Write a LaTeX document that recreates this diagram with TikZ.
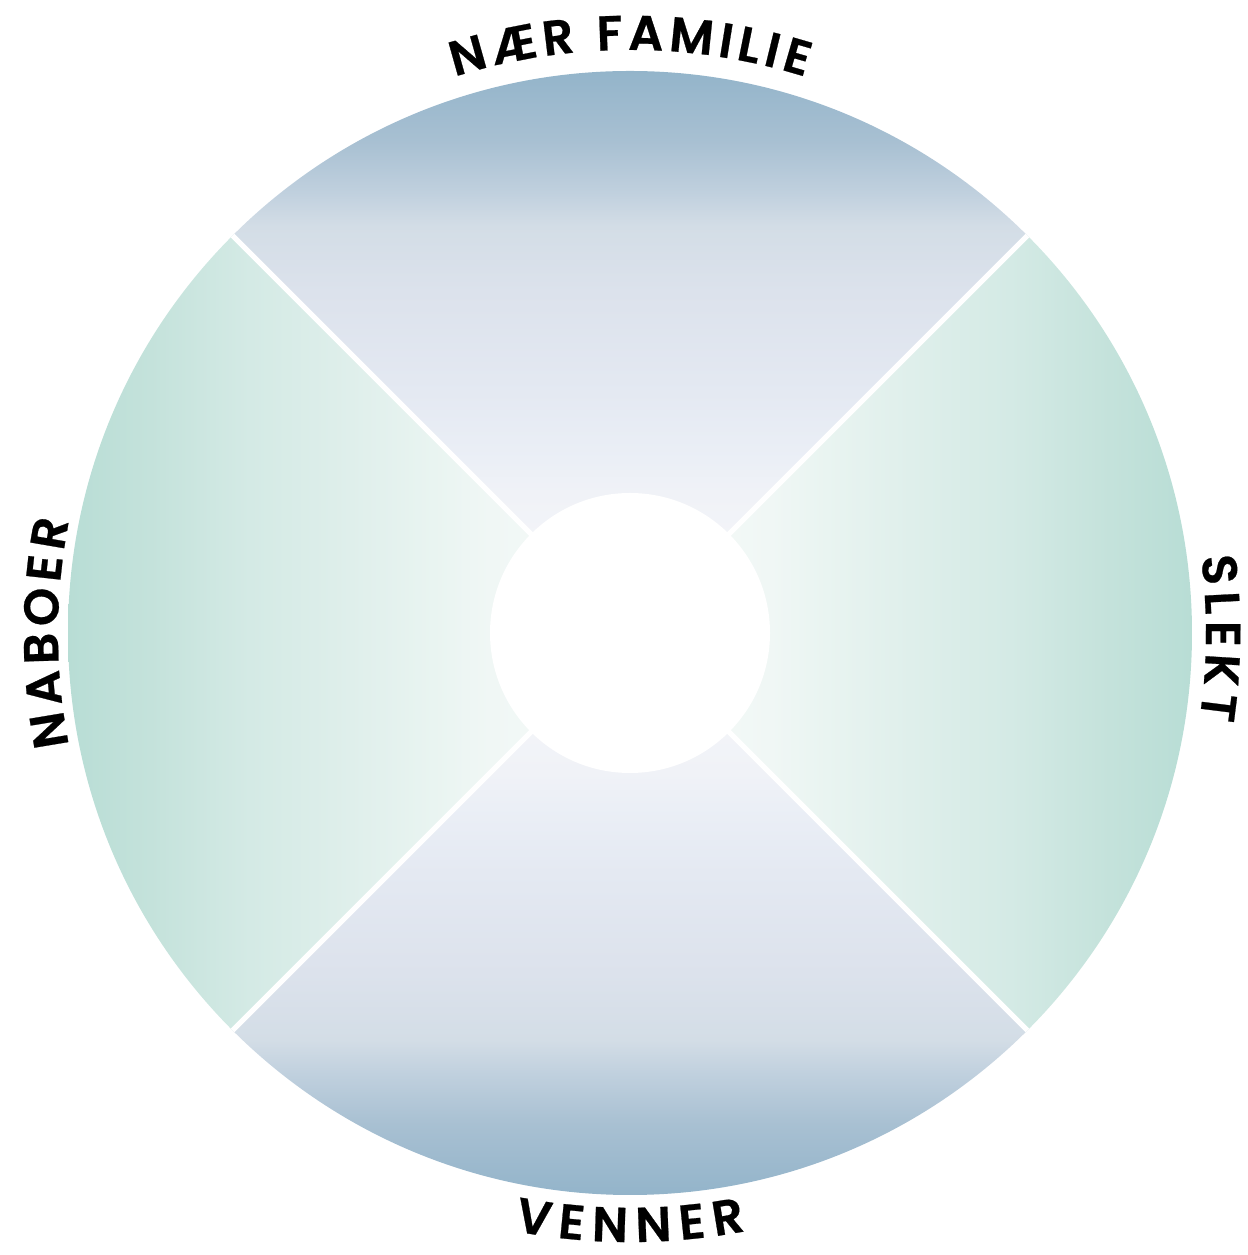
\documentclass[tikz,border=0pt]{standalone}
\usepackage{fontspec}
\newfontfamily\lblfont{Poppins}[UprightFont=* SemiBold, FakeBold=0.5]
\usetikzlibrary{decorations.text,calc}

\definecolor{bA}{HTML}{F7F8FB}
\definecolor{bB}{HTML}{F0F2F7}
\definecolor{bC}{HTML}{EBEFF6}
\definecolor{bD}{HTML}{E4E9F2}
\definecolor{bE}{HTML}{DCE2EC}
\definecolor{bF}{HTML}{D3DDE6}
\definecolor{bG}{HTML}{C0D0DE}
\definecolor{bH}{HTML}{A8C0D2}
\definecolor{bI}{HTML}{93B4CA}

\definecolor{gA}{HTML}{F7FBFA}
\definecolor{gB}{HTML}{F0F7F5}
\definecolor{gC}{HTML}{EBF5F2}
\definecolor{gD}{HTML}{DFEFEB}
\definecolor{gE}{HTML}{D4EAE5}
\definecolor{gF}{HTML}{C4E2DB}
\definecolor{gG}{HTML}{B8DDD5}

\pgfdeclareverticalshading{bluetop}{100bp}{color(0bp)=(bA); color(25bp)=(bA); color(37.5bp)=(bB); color(40.4bp)=(bC); color(46.4bp)=(bD); color(55.3bp)=(bE); color(61.2bp)=(bF); color(64.2bp)=(bG); color(68.7bp)=(bH); color(75bp)=(bI); color(100bp)=(bI)}
\pgfdeclareverticalshading{bluebot}{100bp}{color(0bp)=(bI); color(25bp)=(bI); color(31.3bp)=(bH); color(35.8bp)=(bG); color(38.8bp)=(bF); color(44.7bp)=(bE); color(53.6bp)=(bD); color(59.6bp)=(bC); color(62.5bp)=(bB); color(75bp)=(bA); color(100bp)=(bA)}
\pgfdeclarehorizontalshading{greenright}{100bp}{color(0bp)=(gA); color(25bp)=(gA); color(37.5bp)=(gB); color(41bp)=(gC); color(49.9bp)=(gD); color(58.8bp)=(gE); color(67.7bp)=(gF); color(75bp)=(gG); color(100bp)=(gG)}
\pgfdeclarehorizontalshading{greenleft}{100bp}{color(0bp)=(gG); color(25bp)=(gG); color(32.3bp)=(gF); color(41.2bp)=(gE); color(50.1bp)=(gD); color(59bp)=(gC); color(62.5bp)=(gB); color(75bp)=(gA); color(100bp)=(gA)}

\tikzset{
  separator/.style={draw=white, line width=5pt},
  hubdisc/.style={circle, fill=white, minimum size=280pt, inner sep=0pt},
  lbl/.style={decorate, decoration={text along path, text align=center,
      text={|\lblfont\fontsize{49}{49}\selectfont|#1}}}
}

\begin{document}
\begin{tikzpicture}[x=1pt,y=1pt]
\useasboundingbox (0,0) rectangle (1247,1255);
\coordinate (c) at (630,622);

\begin{scope}
  \clip (c) circle[radius=562pt];
  % top sector
  \begin{scope}
    \clip (c) -- ++(-700,700) -- ++(1400,0) -- cycle;
    \shade[shading=bluetop] ($(c)+(-562,0)$) rectangle ($(c)+(562,562)$);
  \end{scope}
  % bottom sector
  \begin{scope}
    \clip (c) -- ++(-700,-700) -- ++(1400,0) -- cycle;
    \shade[shading=bluebot] ($(c)+(-562,-562)$) rectangle ($(c)+(562,0)$);
  \end{scope}
  % right sector
  \begin{scope}
    \clip (c) -- ++(700,700) -- ++(0,-1400) -- cycle;
    \shade[shading=greenright] ($(c)+(0,-562)$) rectangle ($(c)+(562,562)$);
  \end{scope}
  % left sector
  \begin{scope}
    \clip (c) -- ++(-700,700) -- ++(0,-1400) -- cycle;
    \shade[shading=greenleft] ($(c)+(-562,-562)$) rectangle ($(c)+(0,562)$);
  \end{scope}
  % separators
  \coordinate (ne) at ($(c)+(45:600pt)$);
  \coordinate (nw) at ($(c)+(135:600pt)$);
  \coordinate (sw) at ($(c)+(225:600pt)$);
  \coordinate (se) at ($(c)+(315:600pt)$);
  \draw[separator] (c) -- (ne);
  \draw[separator] (c) -- (nw);
  \draw[separator] (c) -- (sw);
  \draw[separator] (c) -- (se);
\end{scope}

\node[hubdisc] (hub) at (c) {};

% labels
\path[lbl={N{\kern5pt}Æ{\kern5pt}R{\kern5pt} {\kern5pt}F{\kern5pt}A{\kern5pt}M{\kern5pt}I{\kern5pt}L{\kern5pt}I{\kern5pt}E}] ($(c)+(180:583pt)$) arc[start angle=180, end angle=0, radius=583pt];
\path[lbl={S{\kern6pt}L{\kern6pt}E{\kern6pt}K{\kern6pt}T}] ($(c)+(89.5:576pt)$) arc[start angle=89.5, end angle=-90.5, radius=576pt];
\path[lbl={N{\kern5.5pt}A{\kern5.5pt}B{\kern5.5pt}O{\kern5.5pt}E{\kern5.5pt}R}] ($(c)+(270:572pt)$) arc[start angle=270, end angle=90, radius=572pt];
\path[lbl={V{\kern8.5pt}E{\kern8.5pt}N{\kern8.5pt}N{\kern8.5pt}E{\kern8.5pt}R}] ($(c)+(180:609pt)$) arc[start angle=180, end angle=360, radius=609pt];
\end{tikzpicture}
\end{document}
